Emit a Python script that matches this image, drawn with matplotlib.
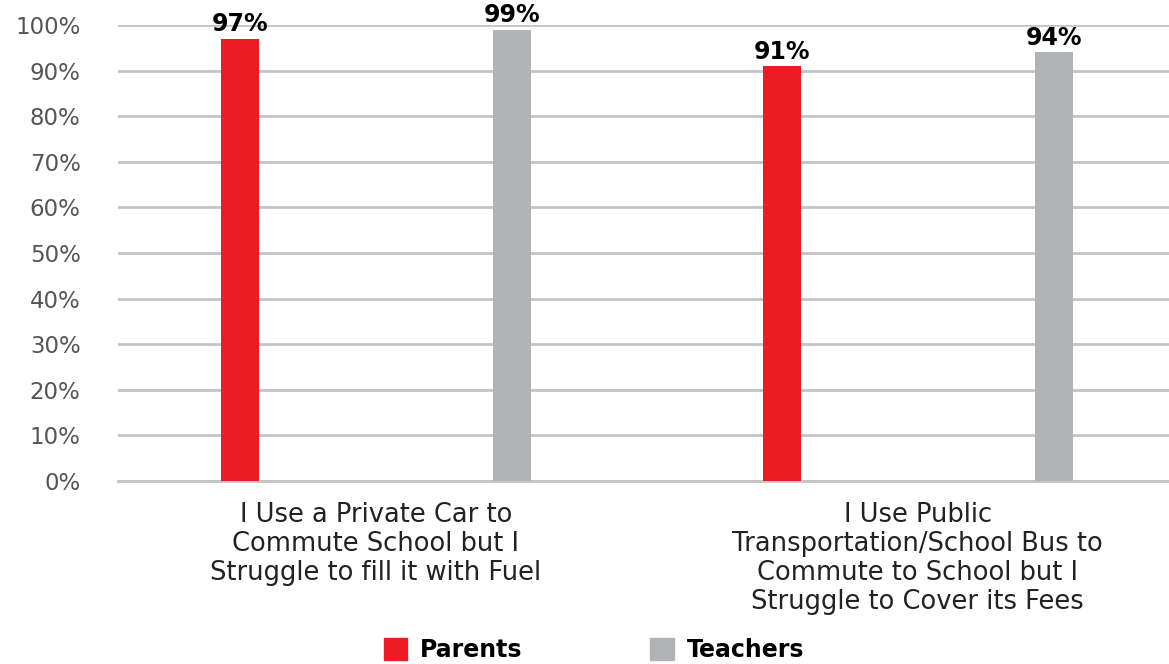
import matplotlib.pyplot as plt
from matplotlib.patches import Patch

# Survey results
categories = [
    "I Use a Private Car to\nCommute School but I\nStruggle to fill it with Fuel",
    "I Use Public\nTransportation/School Bus to\nCommute to School but I\nStruggle to Cover its Fees",
]
parents = [97, 91]
teachers = [99, 94]
series_names = ["Parents", "Teachers"]
yticks = [0, 10, 20, 30, 40, 50, 60, 70, 80, 90, 100]

RED = "#ED1C24"
GREY = "#B1B3B6"
GRID = "#C4C4C4"

plt.rcParams['font.family'] = ['DejaVu Sans']

fig = plt.figure(figsize=(11.69, 6.64), dpi=100)
ax = fig.add_axes([0.101, 0.2756, 0.899, 0.6867])

x = list(range(len(categories)))
off = 0.251
w = 0.070
b1 = ax.bar([i - off for i in x], parents, w, color=RED, zorder=3)
b2 = ax.bar([i + off for i in x], teachers, w, color=GREY, zorder=3)

for bars, vals in [(b1, parents), (b2, teachers)]:
    for r, v in zip(bars, vals):
        ax.text(r.get_x() + r.get_width() / 2, v + 0.5, f"{v}%",
                ha='center', va='bottom', fontsize=17, fontweight='bold',
                color='black', clip_on=False, zorder=4)

ax.set_ylim(0, 100)
ax.set_xlim(-0.476, 1.464)
ax.set_yticks(yticks)
ax.set_yticklabels([f"{t}%" for t in yticks])
ax.set_xticks(x)
ax.set_xticklabels(categories, fontsize=18.5, color="#222222", linespacing=1.15)
ax.tick_params(axis='y', length=0, pad=27, labelsize=16.5, labelcolor="#555555")
ax.tick_params(axis='x', length=0, pad=15)

ax.grid(axis='y', color=GRID, linewidth=2, zorder=0)
ax.set_axisbelow(True)
for s in ['top', 'right', 'left']:
    ax.spines[s].set_visible(False)
ax.spines['bottom'].set_color(GRID)
ax.spines['bottom'].set_linewidth(2)

handles = [Patch(color=RED), Patch(color=GREY)]
leg = fig.legend(handles, series_names, loc='center', bbox_to_anchor=(0.508, 0.021),
                 ncol=2, frameon=False, handlelength=1.0, handleheight=1.0,
                 handletextpad=0.55, columnspacing=5.4,
                 prop={'weight': 'bold', 'size': 17})

fig.savefig("out.png", dpi=100)
